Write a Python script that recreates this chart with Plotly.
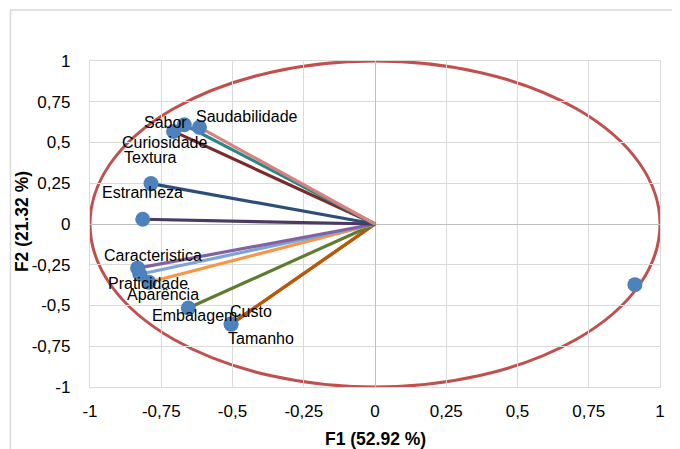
import plotly.graph_objects as go

# ---- data ----
variables = ["Saudabilidade", "Sabor", "Curiosidade", "Textura", "Estranheza",
             "Caracteristica", "Praticidade", "Aparência", "Embalagem", "Custo", "Tamanho"]
f1 = [-0.616, -0.669, -0.707, -0.786, -0.815, -0.833, -0.825, -0.793, -0.655, -0.505, -0.505]
f2 = [0.593, 0.609, 0.568, 0.248, 0.029, -0.271, -0.308, -0.357, -0.515, -0.614, -0.614]
extra_f1 = [0.912]
extra_f2 = [-0.372]
tick_vals = [-1, -0.75, -0.5, -0.25, 0, 0.25, 0.5, 0.75, 1]
tick_text = ["-1", "-0,75", "-0,5", "-0,25", "0", "0,25", "0,5", "0,75", "1"]
x_title = "F1 (52.92 %)"
y_title = "F2 (21.32 %)"

# ---- styles ----
line_colors = ["#D5837F", "#2B8686", "#7A2B2A", "#2D4E78", "#4B3A62",
               "#8064A2", "#7EA3D6", "#F79646", "#5F7A32", "#B8590A", "#B8590A"]
label_dx = [48, -19, -9, 0, 0, 15, 8, 14, 6, 20, 30]
label_dy = [11, 2, -11, 26, 27, 13, -9, -12, -8, 13, -14]
FONT = "Liberation Sans, Arial, sans-serif"

fig = go.Figure()

# vectors from origin (draw so the first variable ends on top)
for i in reversed(range(len(variables))):
    fig.add_trace(go.Scatter(
        x=[0, f1[i]], y=[0, f2[i]], mode="lines",
        line=dict(color=line_colors[i], width=3.2),
        hoverinfo="skip", showlegend=False))

# markers
fig.add_trace(go.Scatter(
    x=f1 + extra_f1, y=f2 + extra_f2, mode="markers",
    marker=dict(color="#4F81BD", size=15),
    showlegend=False, cliponaxis=False))

# correlation circle
fig.add_shape(type="circle", xref="x", yref="y", x0=-1, x1=1, y0=-1, y1=1,
              line=dict(color="#C0504D", width=3), layer="below")

# chart border (outer frame, partially cropped)
fig.add_shape(type="rect", xref="paper", yref="paper",
              x0=-0.1395, x1=1.3, y0=-0.5, y1=1.1564,
              line=dict(color="#D9D9D9", width=1.5), layer="below")

annotations = []
for i, name in enumerate(variables):
    annotations.append(dict(x=f1[i], y=f2[i], xref="x", yref="y", text=name,
                            showarrow=False, xshift=label_dx[i], yshift=label_dy[i],
                            font=dict(family=FONT, size=16, color="#000000")))
annotations.append(dict(x=0.5, y=-0.1595, xref="paper", yref="paper", text="<b>" + x_title + "</b>",
                        xanchor="center", yanchor="middle", showarrow=False,
                        font=dict(family=FONT, size=17.5, color="#000000")))
annotations.append(dict(x=-0.1193, y=0.509, xref="paper", yref="paper", text="<b>" + y_title + "</b>",
                        textangle=-90, xanchor="center", yanchor="middle", showarrow=False,
                        font=dict(family=FONT, size=17.5, color="#000000")))

axis_common = dict(range=[-1, 1], tickvals=tick_vals, ticktext=tick_text,
                   showgrid=True, gridcolor="#D9D9D9", gridwidth=1.3,
                   zeroline=True, zerolinecolor="#BFBFBF", zerolinewidth=1.3,
                   showline=True, linecolor="#D9D9D9", linewidth=1.3, mirror=True,
                   ticks="outside", tickcolor="rgba(0,0,0,0)",
                   tickfont=dict(family=FONT, size=17, color="#000000"),
                   fixedrange=True)

# the page adds an 8px body margin, so the figure is sized/offset to compensate
fig.update_layout(
    width=672, height=441,
    margin=dict(l=82, r=20, t=53, b=62, autoexpand=False),
    paper_bgcolor="white", plot_bgcolor="white",
    xaxis=dict(**axis_common, ticklen=8),
    yaxis=dict(**axis_common, ticklen=15),
    annotations=annotations,
    showlegend=False,
)

fig.write_html("out.html")
